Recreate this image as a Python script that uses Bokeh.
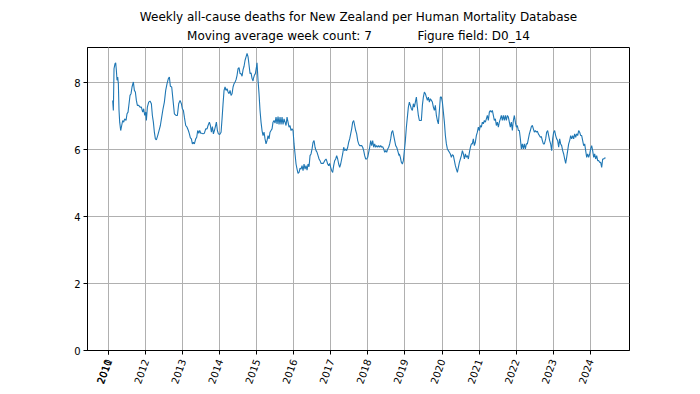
import math
from bokeh.plotting import figure
from bokeh.models import Range1d, FixedTicker, Title, ColumnDataSource
from bokeh.embed import file_html
from bokeh.resources import INLINE

# ---- data ----
years = [
    2011.110, 2011.128, 2011.146, 2011.173, 2011.191, 2011.209, 2011.227, 2011.245, 2011.263, 2011.281,
    2011.299, 2011.326, 2011.353, 2011.380, 2011.407, 2011.434, 2011.470, 2011.497, 2011.524, 2011.551,
    2011.578, 2011.605, 2011.632, 2011.668, 2011.695, 2011.722, 2011.749, 2011.776, 2011.812, 2011.848,
    2011.884, 2011.920, 2011.947, 2011.974, 2012.001, 2012.019, 2012.046, 2012.082, 2012.118, 2012.154,
    2012.181, 2012.208, 2012.235, 2012.262, 2012.289, 2012.325, 2012.361, 2012.397, 2012.433, 2012.469,
    2012.505, 2012.541, 2012.577, 2012.613, 2012.640, 2012.667, 2012.703, 2012.739, 2012.775, 2012.820,
    2012.856, 2012.892, 2012.928,
    2012.964, 2012.991, 2013.018, 2013.045, 2013.081, 2013.117, 2013.153, 2013.180, 2013.207, 2013.234,
    2013.261, 2013.288, 2013.315, 2013.351, 2013.378, 2013.405, 2013.432, 2013.459, 2013.486, 2013.513,
    2013.549, 2013.585, 2013.621, 2013.657, 2013.684, 2013.720, 2013.747, 2013.774, 2013.801, 2013.828,
    2013.855, 2013.882, 2013.909, 2013.936, 2013.963, 2013.999, 2014.035, 2014.062, 2014.089, 2014.116,
    2014.143, 2014.170, 2014.197, 2014.224, 2014.251, 2014.278, 2014.305, 2014.332, 2014.359, 2014.386,
    2014.413, 2014.440, 2014.467, 2014.494, 2014.521, 2014.548, 2014.575, 2014.602, 2014.629, 2014.656,
    2014.683, 2014.710, 2014.737, 2014.764, 2014.791, 2014.818, 2014.845, 2014.872, 2014.899,
    2014.907, 2014.934, 2014.961, 2014.988, 2015.006, 2015.033, 2015.060, 2015.087, 2015.114, 2015.141,
    2015.168, 2015.195, 2015.222, 2015.249, 2015.276, 2015.303, 2015.330, 2015.357, 2015.384, 2015.411,
    2015.438, 2015.465, 2015.492, 2015.519, 2015.546, 2015.573, 2015.600, 2015.627, 2015.654, 2015.681,
    2015.708, 2015.735, 2015.762, 2015.789, 2015.816, 2015.843, 2015.870, 2015.897, 2015.924, 2015.951,
    2015.978, 2016.005, 2016.032, 2016.059, 2016.086, 2016.113, 2016.140, 2016.167, 2016.194, 2016.221,
    2016.248, 2016.275, 2016.302, 2016.329, 2016.356, 2016.383, 2016.410, 2016.437, 2016.464, 2016.491,
    2016.518, 2016.545, 2016.572, 2016.599, 2016.626, 2016.653, 2016.680, 2016.707, 2016.734, 2016.761,
    2016.797, 2016.833, 2016.869,
    2016.886, 2016.913, 2016.940, 2016.967, 2016.994, 2017.021, 2017.048, 2017.075, 2017.102, 2017.129,
    2017.156, 2017.183, 2017.210, 2017.237, 2017.264, 2017.291, 2017.318, 2017.345, 2017.372, 2017.399,
    2017.426, 2017.453, 2017.480, 2017.507, 2017.534, 2017.561, 2017.588, 2017.615, 2017.642, 2017.669,
    2017.696, 2017.723, 2017.750, 2017.777, 2017.804, 2017.831, 2017.858, 2017.885, 2017.912, 2017.939,
    2017.966, 2017.993, 2018.020, 2018.047, 2018.074, 2018.101, 2018.128, 2018.155, 2018.182, 2018.209,
    2018.236, 2018.263, 2018.290, 2018.317, 2018.344, 2018.371, 2018.398, 2018.425, 2018.452, 2018.479,
    2018.506, 2018.533, 2018.560, 2018.587, 2018.614, 2018.641, 2018.668, 2018.695, 2018.722, 2018.749,
    2018.776, 2018.803, 2018.839,
    2018.848, 2018.875, 2018.902, 2018.929, 2018.956, 2018.983, 2019.010, 2019.037, 2019.064, 2019.091,
    2019.118, 2019.145, 2019.172, 2019.199, 2019.226, 2019.253, 2019.280, 2019.307, 2019.334, 2019.361,
    2019.388, 2019.415, 2019.442, 2019.469, 2019.496, 2019.523, 2019.550, 2019.577, 2019.604, 2019.631,
    2019.658, 2019.685, 2019.712, 2019.739, 2019.766, 2019.793, 2019.820, 2019.847, 2019.874, 2019.901,
    2019.928, 2019.955, 2019.982, 2020.009, 2020.036, 2020.063, 2020.090, 2020.117, 2020.144, 2020.171,
    2020.198, 2020.225, 2020.252, 2020.279, 2020.306, 2020.333, 2020.360, 2020.387, 2020.414, 2020.441,
    2020.468, 2020.495, 2020.522, 2020.549, 2020.576, 2020.603, 2020.630, 2020.657, 2020.684, 2020.711,
    2020.738, 2020.765, 2020.792,
    2020.818, 2020.845, 2020.872, 2020.899, 2020.926, 2020.953, 2020.980, 2021.007, 2021.034, 2021.061,
    2021.088, 2021.115, 2021.142, 2021.169, 2021.196, 2021.223, 2021.250, 2021.277, 2021.304, 2021.331,
    2021.358, 2021.385, 2021.412, 2021.439, 2021.466, 2021.493, 2021.520, 2021.547, 2021.574, 2021.601,
    2021.628, 2021.655, 2021.682, 2021.709, 2021.736, 2021.763, 2021.790, 2021.817, 2021.844, 2021.871,
    2021.898, 2021.925, 2021.952, 2021.979, 2022.006, 2022.033, 2022.060, 2022.087, 2022.114, 2022.141,
    2022.168, 2022.195, 2022.222, 2022.249, 2022.276, 2022.303, 2022.330, 2022.357, 2022.384, 2022.411,
    2022.438, 2022.465, 2022.492, 2022.519, 2022.546, 2022.573, 2022.600, 2022.627, 2022.654, 2022.681,
    2022.708, 2022.735, 2022.762,
    2022.797, 2022.824, 2022.851, 2022.878, 2022.905, 2022.932, 2022.959, 2022.986, 2023.013, 2023.040,
    2023.067, 2023.094, 2023.121, 2023.148, 2023.175, 2023.202, 2023.229, 2023.256, 2023.283, 2023.310,
    2023.337, 2023.364, 2023.391, 2023.418, 2023.445, 2023.472, 2023.499, 2023.526, 2023.553, 2023.580,
    2023.607, 2023.634, 2023.661, 2023.688, 2023.715, 2023.742, 2023.769, 2023.796, 2023.823, 2023.850,
    2023.877, 2023.904, 2023.931, 2023.958, 2023.985, 2024.012, 2024.039, 2024.066, 2024.093, 2024.120,
    2024.147, 2024.174, 2024.201, 2024.230, 2024.255, 2024.282, 2024.309, 2024.336, 2024.363, 2024.390,
    2024.417,
]

deaths = [
    7.47, 7.17, 8.42, 8.57, 8.59, 8.37, 8.07, 8.17, 7.97, 7.17,
    6.82, 6.57, 6.72, 6.87, 6.82, 6.92, 6.87, 7.07, 7.12, 7.37,
    7.62, 7.67, 7.87, 8.02, 7.77, 7.72, 7.47, 7.32, 7.32, 7.27,
    7.27, 7.12, 7.22, 7.02, 7.12, 6.87, 7.27, 7.42, 7.45, 7.37,
    7.02, 6.82, 6.52, 6.32, 6.29, 6.42, 6.57, 6.72, 6.97, 7.22,
    7.42, 7.77, 7.97, 8.12, 8.17, 7.89, 7.87, 7.47, 7.07, 7.02,
    7.02, 7.37, 7.47,
    7.37, 7.22, 7.17, 6.97, 6.72, 6.67, 6.57, 6.47, 6.35, 6.32,
    6.17, 6.22, 6.17, 6.32, 6.37, 6.57, 6.49, 6.57, 6.49, 6.49,
    6.47, 6.49, 6.62, 6.62, 6.72, 6.82, 6.72, 6.52, 6.69, 6.47,
    6.57, 6.69, 6.82, 6.57, 6.47, 6.45, 6.52, 6.92, 7.37, 7.77,
    7.87, 7.77, 7.82, 7.72, 7.67, 7.77, 7.62, 7.67, 7.87, 7.97,
    8.02, 8.09, 8.22, 8.42, 8.45, 8.27, 8.27, 8.19, 8.39, 8.49,
    8.67, 8.77, 8.87, 8.77, 8.52, 8.27, 8.29, 8.12, 8.05,
    8.12, 8.22, 8.27, 8.45, 8.59, 8.07, 7.67, 7.17, 6.82, 6.57,
    6.42, 6.52, 6.32, 6.17, 6.27, 6.42, 6.32, 6.52, 6.57, 6.62,
    6.82, 6.87, 6.79, 6.97, 6.77, 6.99, 6.75, 6.97, 6.75, 6.97,
    6.75, 6.92, 6.82, 6.72, 6.97, 6.82, 6.67, 6.72, 6.57, 6.62,
    6.57, 6.17, 5.87, 5.57, 5.42, 5.29, 5.32, 5.45, 5.42, 5.52,
    5.37, 5.57, 5.42, 5.52, 5.39, 5.57, 5.49, 5.82, 5.87, 6.02,
    6.22, 6.27, 6.07, 5.97, 5.92, 5.82, 5.72, 5.67, 5.59, 5.59,
    5.59, 5.67, 5.72,
    5.67, 5.57, 5.52, 5.59, 5.47, 5.37, 5.32, 5.52, 5.67, 5.72,
    5.82, 5.72, 5.57, 5.47, 5.57, 5.72, 5.87, 6.07, 5.97, 6.02,
    5.97, 6.07, 6.22, 6.32, 6.47, 6.62, 6.82, 6.87, 6.72, 6.57,
    6.47, 6.27, 6.17, 6.12, 6.12, 6.12, 6.07, 5.97, 5.82, 5.72,
    5.72, 5.77, 5.92, 6.07, 6.27, 6.12, 6.27, 6.07, 6.17, 6.07,
    6.12, 6.07, 6.12, 6.07, 6.12, 6.07, 6.09, 6.02, 5.92, 5.97,
    5.92, 6.02, 6.07, 6.17, 6.32, 6.52, 6.57, 6.42, 6.27, 6.12,
    6.07, 5.97, 5.82,
    5.87, 5.77, 5.62, 5.57, 5.67, 5.97, 6.27, 6.67, 6.97, 7.27,
    7.42, 7.32, 7.22, 7.17, 7.37, 7.27, 7.42, 7.57, 7.27, 7.02,
    6.87, 6.87, 6.87, 7.32, 7.57, 7.72, 7.67, 7.57, 7.47, 7.57,
    7.42, 7.52, 7.47, 7.42, 7.27, 7.17, 7.32, 7.02, 6.87, 6.77,
    7.17, 7.57, 7.57, 7.42, 7.12, 6.82, 6.42, 6.17, 6.02, 5.97,
    5.92, 5.87, 5.77, 5.85, 5.82, 5.67, 5.52, 5.42, 5.32, 5.47,
    5.62, 5.72, 5.82, 5.97, 5.87, 5.72, 5.87, 5.77, 5.82, 5.72,
    5.92, 6.07, 6.17,
    6.17, 6.32, 6.12, 6.22, 6.42, 6.52, 6.67, 6.57, 6.72, 6.67,
    6.82, 6.77, 6.87, 6.82, 6.92, 7.02, 6.87, 7.12, 7.17, 7.12,
    7.17, 7.02, 6.87, 6.92, 6.72, 6.82, 6.67, 6.82, 6.92, 7.02,
    6.87, 7.02, 6.87, 7.02, 6.87, 7.02, 6.97, 6.82, 6.67, 6.82,
    6.57, 6.87, 7.02, 6.82, 6.67, 6.72, 6.57, 6.57, 6.32, 6.02,
    6.17, 6.02, 6.17, 6.02, 6.17, 6.17, 6.32, 6.47, 6.57, 6.69,
    6.72, 6.62, 6.52, 6.57, 6.52, 6.55, 6.47, 6.42, 6.37, 6.39,
    6.27, 6.17, 6.17,
    6.32, 6.52, 6.57, 6.42, 6.27, 6.17, 5.97, 6.32, 6.52, 6.57,
    6.42, 6.32, 6.27, 6.07, 6.32, 6.17, 6.12, 5.97, 5.87, 5.72,
    5.59, 5.77, 5.97, 6.17, 6.27, 6.42, 6.32, 6.42, 6.32, 6.47,
    6.37, 6.47, 6.42, 6.57, 6.52, 6.42, 6.42, 6.27, 6.12, 6.17,
    5.97, 5.77, 5.87, 5.77, 5.87, 6.02, 6.12, 5.97, 5.77, 5.87,
    5.72, 5.82, 5.67, 5.67, 5.62, 5.62, 5.47, 5.72, 5.72, 5.75,
    5.75,
]

tick_years = [2010.99, 2011.0, 2012.0, 2013.0, 2014.0, 2015.0, 2016.0, 2017.0,
              2018.0, 2019.0, 2020.0, 2021.0, 2022.0, 2023.0, 2024.0]
tick_labels = ["2010", "2011", "2012", "2013", "2014", "2015", "2016", "2017",
               "2018", "2019", "2020", "2021", "2022", "2023", "2024"]
y_ticks = [0, 2, 4, 6, 8]

title_line1 = "Weekly all-cause deaths for New Zealand per Human Mortality Database"
title_line2 = "Moving average week count: 7\u00a0\u00a0\u00a0\u00a0\u00a0\u00a0\u00a0\u00a0\u00a0\u00a0\u00a0\u00a0Figure field: D0_14"

FONT = "DejaVu Sans"

p = figure(width=692, height=390, output_backend="svg", toolbar_location=None,
           title=None,
           x_range=Range1d(2010.43, 2025.06), y_range=Range1d(0, 9.05),
           min_border_left=87, min_border_right=63, min_border_top=47, min_border_bottom=40)

src = ColumnDataSource(dict(x=years, y=deaths))
p.line("x", "y", source=src, line_color="#1f77b4", line_width=1.1)

p.xaxis.ticker = FixedTicker(ticks=tick_years)
p.xaxis.major_label_overrides = {t: l for t, l in zip(tick_years, tick_labels)}
p.xaxis.major_label_orientation = math.radians(70)
p.yaxis.ticker = FixedTicker(ticks=y_ticks)

for ax in (p.xaxis[0], p.yaxis[0]):
    ax.major_label_text_font = FONT
    ax.major_label_text_font_size = "10px"
    ax.major_label_text_color = "black"
    ax.major_tick_in = 0
    ax.major_tick_out = 4
    ax.minor_tick_line_color = None
    ax.axis_line_color = "black"
    ax.major_tick_line_color = "black"
    ax.major_label_standoff = 3
p.xaxis.major_label_standoff = 5

p.xgrid.grid_line_color = "#b0b0b0"
p.ygrid.grid_line_color = "#b0b0b0"
p.xgrid.grid_line_width = 1
p.ygrid.grid_line_width = 1

p.outline_line_color = "black"
p.outline_line_width = 1
p.background_fill_color = "white"
p.border_fill_color = "white"

t2 = Title(text=title_line2, align="center", text_font=FONT, text_font_size="12px",
           text_font_style="normal", text_color="black", standoff=10)
t1 = Title(text=title_line1, align="center", text_font=FONT, text_font_size="12px",
           text_font_style="normal", text_color="black", standoff=-4)
p.add_layout(t2, "above")
p.add_layout(t1, "above")

open("out.html", "w").write(file_html(p, INLINE))
